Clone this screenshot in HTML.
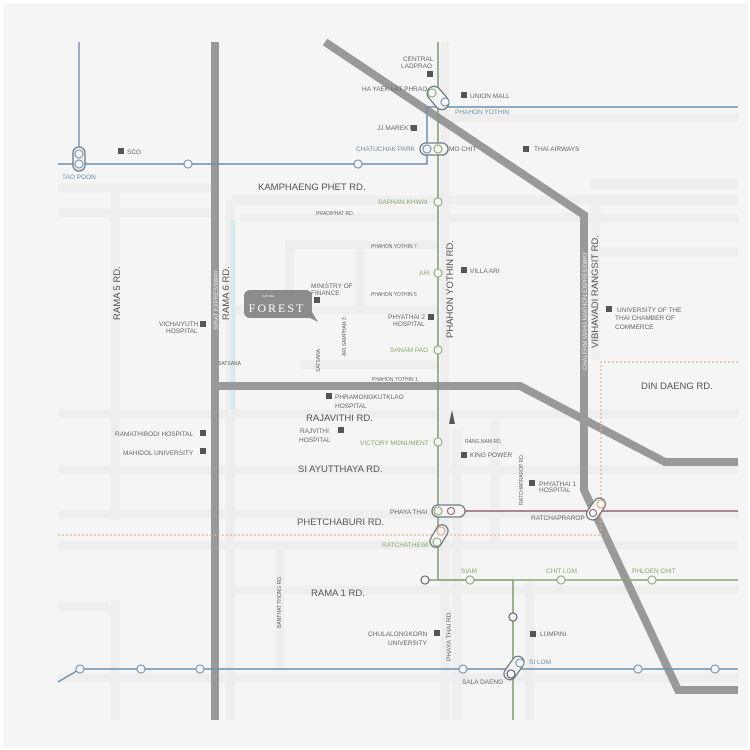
<!DOCTYPE html>
<html><head><meta charset="utf-8"><style>
html,body{margin:0;padding:0;background:#fff}
svg{display:block}
text{font-family:"Liberation Sans",sans-serif;fill:#666}
.s{font-size:6.5px}
.r{font-size:9.5px;fill:#555}
.g{fill:#8aa870}
.b{fill:#6f8fa8}
</style></head><body>
<svg width="750" height="750" viewBox="0 0 750 750" xmlns="http://www.w3.org/2000/svg">
<rect x="0" y="0" width="750" height="750" fill="#fff"/>
<rect x="3" y="3" width="744" height="744" fill="#f5f5f5"/>
<!-- light roads -->
<g stroke="#eeeeee" stroke-width="9" fill="none">
<line x1="58" y1="188" x2="215" y2="188"/>
<line x1="58" y1="213" x2="215" y2="213"/>
<line x1="232" y1="200" x2="738" y2="200"/>
<line x1="240" y1="218" x2="738" y2="218"/>
<line x1="285" y1="245" x2="438" y2="245"/>
<line x1="590" y1="184" x2="738" y2="184"/>
<line x1="590" y1="252" x2="738" y2="252"/>
<line x1="445" y1="118" x2="738" y2="118"/>
<line x1="58" y1="414" x2="738" y2="414"/>
<line x1="58" y1="470" x2="738" y2="470"/>
<line x1="58" y1="514" x2="738" y2="514"/>
<line x1="58" y1="545" x2="738" y2="545"/>
<line x1="232" y1="590" x2="738" y2="590"/>
<line x1="58" y1="607" x2="110" y2="607"/>
<line x1="58" y1="678" x2="738" y2="678"/>
<line x1="232" y1="310" x2="438" y2="310"/>
<line x1="300" y1="365" x2="438" y2="365"/>
<line x1="115" y1="188" x2="115" y2="520"/>
<line x1="115" y1="600" x2="115" y2="720"/>
<line x1="230" y1="200" x2="230" y2="720"/>
<line x1="290" y1="245" x2="290" y2="310"/>
<line x1="360" y1="245" x2="360" y2="310"/>
<line x1="445" y1="42" x2="445" y2="720"/>
<line x1="457" y1="430" x2="457" y2="720"/>
<line x1="495" y1="420" x2="495" y2="545"/>
<line x1="280" y1="545" x2="280" y2="670"/>
<line x1="530" y1="580" x2="530" y2="720"/>
<line x1="596" y1="200" x2="596" y2="360"/>
</g>
<line x1="233" y1="220" x2="233" y2="410" stroke="#d7ebe8" stroke-width="5"/>
<!-- expressways -->
<g stroke="#999" stroke-width="8" fill="none" stroke-linejoin="miter">
<line x1="215" y1="42" x2="215" y2="720"/>
<polyline points="215,386 520,386 665,462 738,462"/>
<polyline points="325,42 584,215 584,490 678,690 738,690"/>
</g>
<text x="0" y="0" transform="translate(218,330) rotate(-90)" style="font-size:6px;fill:#eee">SIRAT EXPRESSWAY</text>
<text x="0" y="0" transform="translate(587,370) rotate(-90)" style="font-size:6px;fill:#eee">CHALERM MAHA NAKHON EXPRESSWAY</text>
<!-- orange dotted -->
<g stroke="#e0b48a" stroke-width="1.2" stroke-dasharray="2,2" fill="none">
<polyline points="58,535 600,535"/>
<polyline points="601,535 601,362 738,362"/>
</g>
<!-- lines -->
<g fill="none" stroke-width="1.5">
<polyline points="79,42 79,164" stroke="#8c8fb8"/>
<polyline points="58,164 427,164 427,107 738,107" stroke="#6f8fa8"/>
<polyline points="58,682 80,669 738,669" stroke="#6f8fa8"/>
<polyline points="450,511 738,511" stroke="#9a6070"/>
<polyline points="438,42 438,580 513,580 513,720" stroke="#7f9a68"/>
<polyline points="425,580 738,580" stroke="#8aa870"/>
</g>
<!-- station capsules -->
<g fill="#f5f5f5" stroke="#6a7a80" stroke-width="1.3">
<rect x="73" y="147" width="12" height="24" rx="6"/>
<rect x="420" y="143" width="28" height="12" rx="6"/>
<rect x="432" y="505" width="33" height="12" rx="6"/>
<rect x="431" y="85" width="14" height="26" rx="7" transform="rotate(-40 438 98)"/>
<rect x="433" y="524" width="12" height="24" rx="6" transform="rotate(30 439 536)"/>
<rect x="590" y="497" width="12" height="24" rx="6" transform="rotate(35 596 509)"/>
<rect x="508" y="655" width="12" height="26" rx="6" transform="rotate(35 514 668)"/>
</g>
<g fill="#f5f5f5" stroke-width="1.1">
<g stroke="#6f8fa8">
<circle cx="79" cy="154" r="4"/><circle cx="79" cy="164" r="4"/>
<circle cx="188" cy="164" r="4"/><circle cx="358" cy="164" r="4"/>
<circle cx="427" cy="149" r="4"/><circle cx="445" cy="102" r="4"/>
<circle cx="80" cy="669" r="4"/><circle cx="141" cy="669" r="4"/><circle cx="200" cy="669" r="4"/>
<circle cx="463" cy="669" r="4"/><circle cx="638" cy="669" r="4"/><circle cx="715" cy="669" r="4"/>
<circle cx="520" cy="663" r="4"/>
</g>
<g stroke="#8aa870">
<circle cx="438" cy="149" r="4"/><circle cx="432" cy="93" r="4"/>
<circle cx="438" cy="202" r="4"/><circle cx="438" cy="273" r="4"/><circle cx="438" cy="350" r="4"/>
<circle cx="438" cy="442" r="4"/><circle cx="438" cy="511" r="4"/><circle cx="437" cy="542" r="4"/>
<circle cx="470" cy="580" r="4"/><circle cx="561" cy="580" r="4"/><circle cx="652" cy="580" r="4"/>
<circle cx="425" cy="580" r="4" stroke="#556"/><circle cx="513" cy="617" r="4" stroke="#556"/>
<circle cx="511" cy="674" r="4" stroke="#556"/>
</g>
<g stroke="#e0a080"><circle cx="441" cy="531" r="4"/><circle cx="601" cy="504" r="4"/></g>
<g stroke="#9a6070"><circle cx="451" cy="511" r="3.5"/><circle cx="593" cy="513" r="3.5"/></g>
</g>
<!-- landmarks -->
<g fill="#555">
<rect x="118" y="148" width="6" height="6"/>
<rect x="427" y="71" width="6" height="6"/>
<rect x="461" y="92" width="6" height="6"/>
<rect x="411" y="125" width="6" height="6"/>
<rect x="523" y="146" width="6" height="6"/>
<rect x="461" y="267" width="6" height="6"/>
<rect x="428" y="314" width="6" height="6"/>
<rect x="314" y="297" width="6" height="6"/>
<rect x="200" y="321" width="6" height="6"/>
<rect x="606" y="306" width="6" height="6"/>
<rect x="326" y="393" width="6" height="6"/>
<rect x="338" y="427" width="6" height="6"/>
<rect x="200" y="430" width="6" height="6"/>
<rect x="200" y="448" width="6" height="6"/>
<rect x="461" y="452" width="6" height="6"/>
<rect x="529" y="480" width="6" height="6"/>
<rect x="434" y="630" width="6" height="6"/>
<rect x="530" y="631" width="6" height="6"/>
<polygon points="449,424 452,410 455,424"/>
</g>
<!-- Forest logo -->
<path d="M250 290 h56 a6 6 0 0 1 6 6 v16 l6 10 l-8 -4 h-60 a6 6 0 0 1 -6 -6 v-16 a6 6 0 0 1 6 -6z" fill="#8c8c8c"/>
<text x="277" y="312" text-anchor="middle" style="font-family:'Liberation Serif',serif;font-size:12px;fill:#fff;letter-spacing:2px">FOREST</text>
<text x="262" y="297" style="font-size:3px;fill:#eee">NATURE</text>
<!-- station labels -->
<text class="s b" x="62" y="179">TAO POON</text>
<text class="s" x="127" y="154">SCG</text>
<text class="s" x="403" y="61">CENTRAL</text><text class="s" x="401" y="68">LADPRAO</text>
<text class="s" x="362" y="91">HA YAEK LAT PHRAO</text>
<text class="s" x="470" y="98">UNION MALL</text>
<text class="s b" x="455" y="114">PHAHON YOTHIN</text>
<text class="s" x="377" y="130">JJ MAREKT</text>
<text class="s b" x="356" y="151">CHATUCHAK PARK</text>
<text class="s" x="449" y="151">MO CHIT</text>
<text class="s" x="534" y="151">THAI AIRWAYS</text>
<text class="r" x="258" y="190">KAMPHAENG PHET RD.</text>
<text class="s g" x="378" y="204">SAPHAN KHWAI</text>
<text style="font-size:5px" x="316" y="215">PRADIPHAT RD.</text>
<text style="font-size:5px" x="371" y="248">PHAHON YOTHIN 7</text>
<text class="s g" x="419" y="275">ARI</text>
<text class="s" x="470" y="273">VILLA ARI</text>
<text class="s" x="311" y="288">MINISTRY OF</text><text class="s" x="311" y="295">FINANCE</text>
<text style="font-size:5px" x="371" y="296">PHAHON YOTHIN 5</text>
<text class="s" x="388" y="319">PHYATHAI 2</text><text class="s" x="393" y="326">HOSPITAL</text>
<text class="s" x="617" y="312">UNIVERSITY OF THE</text>
<text class="s" x="615" y="320">THAI CHAMBER  OF</text>
<text class="s" x="615" y="329">COMMERCE</text>
<text class="s" x="159" y="326">VICHAIYUTH</text><text class="s" x="166" y="333">HOSPITAL</text>
<text class="s g" x="390" y="352">SANAM PAO</text>
<text style="font-size:5px" x="218" y="365">SATSANA</text>
<text style="font-size:5px" transform="translate(320,372) rotate(-90)">SATSANA</text>
<text style="font-size:5px" transform="translate(346,356) rotate(-90)">ARI SAMPHAN 3</text>
<text style="font-size:5px" x="372" y="381">PHAHON YOTHIN 1</text>
<text class="r" x="641" y="389">DIN DAENG RD.</text>
<text class="s" x="335" y="399">PHRAMONGKUTKLAO</text><text class="s" x="335" y="408">HOSPITAL</text>
<text class="r" x="306" y="421">RAJAVITHI RD.</text>
<text class="s" x="300" y="433">RAJVITHI</text><text class="s" x="299" y="442">HOSPITAL</text>
<text class="s" x="115" y="436">RAMATHIBODI HOSPITAL</text>
<text class="s" x="123" y="455">MAHIDOL UNIVERSITY</text>
<text class="s g" x="360" y="445">VICTORY MONUMENT</text>
<text style="font-size:5px" x="465" y="443">RANG NAM RD.</text>
<text class="s" x="470" y="457">KING POWER</text>
<text class="r" x="298" y="472">SI AYUTTHAYA RD.</text>
<text class="s" x="539" y="486">PHYATHAI 1</text><text class="s" x="539" y="492">HOSPITAL</text>
<text style="font-size:5px" transform="translate(523,505) rotate(-90)">RATCHAPRAROP RD.</text>
<text class="s" x="390" y="514">PHAYA THAI</text>
<text class="s" x="531" y="520">RATCHAPRAROP</text>
<text class="r" x="297" y="525">PHETCHABURI RD.</text>
<text class="s g" x="382" y="547">RATCHATHEWI</text>
<text class="s g" x="461" y="573">SIAM</text>
<text class="s g" x="546" y="573">CHIT LOM</text>
<text class="s g" x="632" y="573">PHLOEN CHIT</text>
<text class="r" x="311" y="596">RAMA 1 RD.</text>
<text style="font-size:5px" transform="translate(281,628) rotate(-90)">BANTHAT THONG RD.</text>
<text class="s" x="368" y="636">CHULALONGKORN</text><text class="s" x="388" y="645">UNIVERSITY</text>
<text style="font-size:6.5px" transform="translate(451,661) rotate(-90)">PHAYA THAI RD.</text>
<text class="s" x="540" y="636">LUMPINI</text>
<text class="s b" x="529" y="664">SI LOM</text>
<text class="s" x="462" y="684">SALA DAENG</text>
<text class="r" transform="translate(120,320) rotate(-90)">RAMA 5 RD.</text>
<text class="r" transform="translate(229,320) rotate(-90)">RAMA 6 RD.</text>
<text class="r" transform="translate(453,338) rotate(-90)">PHAHON YOTHIN RD.</text>
<text class="r" transform="translate(598,348) rotate(-90)">VIBHAVADI RANGSIT RD.</text>
</svg>
</body></html>
